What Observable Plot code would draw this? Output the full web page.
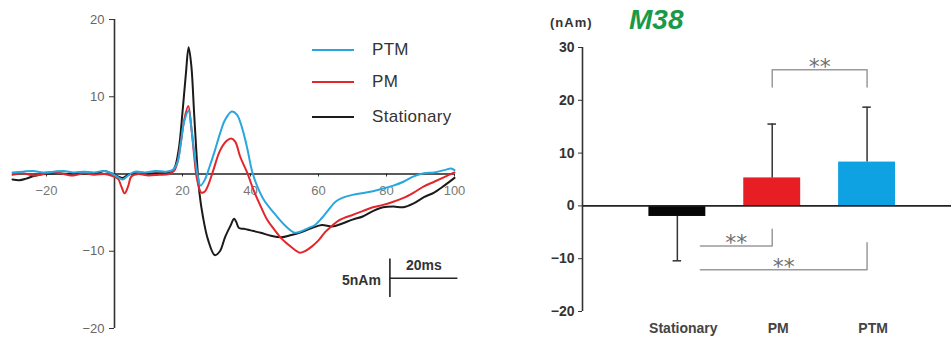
<!DOCTYPE html>
<html>
<head>
<meta charset="utf-8">
<script src="https://cdn.jsdelivr.net/npm/d3@7"></script>
<script src="https://cdn.jsdelivr.net/npm/@observablehq/plot@0.6"></script>
<style>
  html, body { margin: 0; padding: 0; background: #fff; }
  #wrap { position: relative; width: 951px; height: 338px; overflow: hidden; font-family: "Liberation Sans", Arial, sans-serif; }
  #left, #right { position: absolute; top: 0; }
  #left { left: 0; }
  #right { left: 470px; }
  .legend-item { position: absolute; left: 312px; display: flex; align-items: center; height: 20px; font-size: 17px; color: #333; letter-spacing: 0.3px; white-space: nowrap; }
  .legend-item .swatch { width: 42px; height: 0; border-top: 2.5px solid; margin-right: 18px; }
  #unit { position: absolute; left: 550px; top: 15px; font-size: 13px; font-weight: bold; color: #333; letter-spacing: 1px; }
  #title { position: absolute; left: 629px; top: 4px; font-size: 28px; font-weight: bold; font-style: italic; color: #1a9a48; }
</style>
</head>
<body>
<div id="wrap">
  <div id="left"></div>
  <div id="right"></div>
  <div id="legend"></div>
  <div id="unit">(nAm)</div>
  <div id="title">M38</div>
</div>
<script>
// ---------- Left panel: averaged waveforms (time in ms, amplitude in nAm) ----------
const stationaryT = [-30, -28, -26, -24, -22, -20, -17, -14, -11, -8, -5, -3, -1, 1, 2.5, 4, 6, 9, 12, 15, 17, 18, 19, 20, 21, 21.8, 22.6, 23.4, 24.2, 25, 26, 27.5, 29.5, 31, 32.5, 34, 35.2, 35.8, 36.6, 38, 40, 43, 46, 49, 52, 55, 58, 61, 64, 67, 70, 73, 76, 79, 82, 85, 88, 91, 94, 97, 100];
const stationaryV = [-0.7, -0.8, -0.6, -0.3, -0.1, 0.0, 0.1, 0.0, 0.1, 0.0, 0.1, 0.4, 0.1, -0.3, -0.5, -0.1, 0.1, 0.0, 0.1, 0.1, 0.3, 1.2, 3.5, 8.0, 13.0, 16.4, 14.0, 8.0, 2.0, -2.5, -5.5, -8.5, -10.5, -10.0, -8.2, -6.8, -5.8, -6.2, -7.0, -7.1, -7.3, -7.6, -8.0, -8.2, -7.9, -7.5, -7.0, -6.6, -6.8, -6.4, -5.9, -5.5, -4.8, -4.3, -4.2, -4.3, -3.8, -3.0, -2.4, -1.5, -0.5];

const pmT = [-30, -27, -24, -21, -18, -15, -12, -9, -6, -3, -1, 1, 2, 3, 4, 5, 7, 10, 13, 16, 17.5, 18.5, 19.5, 20.5, 21.7, 22.6, 23.4, 24.2, 25.5, 26.5, 27.5, 29, 31, 33, 34.3, 35.5, 37, 39, 41, 43, 45, 47, 49, 51, 53, 54.5, 56, 58, 60, 62, 64, 66, 68, 70, 73, 76, 79, 82, 85, 88, 91, 94, 97, 100];
const pmV = [-0.1, 0.1, -0.2, 0.0, 0.2, 0.0, -0.2, 0.1, -0.1, 0.0, -0.2, -0.6, -1.6, -2.5, -1.6, -0.3, 0.0, -0.2, -0.1, 0.0, 0.4, 1.5, 4.0, 7.0, 8.8, 6.0, 2.5, -0.5, -2.4, -2.3, -1.5, 0.4, 3.0, 4.3, 4.6, 4.2, 2.2, 0.2, -2.2, -4.2, -6.0, -7.2, -8.3, -9.1, -9.8, -10.2, -10.0, -9.4, -8.6, -7.5, -6.7, -6.0, -5.6, -5.3, -4.8, -4.3, -4.0, -3.6, -3.1, -2.4, -1.6, -1.0, -0.4, 0.2];

const ptmT = [-30, -27, -24, -21, -18, -15, -12, -9, -6, -3, -1, 1, 2.5, 4, 6, 9, 12, 15, 17, 18.5, 19.5, 20.5, 21.8, 22.6, 23.4, 24.4, 25.3, 26.5, 28, 29.5, 31, 32.5, 34.5, 36, 37.5, 39, 40.5, 42, 44, 47, 50, 53, 55, 57, 59, 61, 63, 65, 67, 70, 74, 78, 82, 85, 88, 91, 94, 97, 99, 100];
const ptmV = [0.2, 0.3, 0.4, 0.2, 0.3, 0.4, 0.2, 0.3, 0.2, 0.4, 0.1, -0.4, -0.7, -0.2, 0.3, 0.2, 0.4, 0.3, 0.5, 1.5, 4.0, 6.8, 8.2, 6.0, 3.0, 0.0, -1.5, -0.8, 1.0, 3.0, 5.2, 7.0, 8.1, 7.7, 6.0, 3.4, 0.3, -1.6, -3.4, -5.1, -6.6, -7.6, -7.4, -7.0, -6.6, -5.7, -4.6, -3.6, -3.1, -2.7, -2.4, -2.0, -1.5, -1.0, -0.3, 0.1, 0.2, 0.5, 0.7, 0.5];

const seriesNames = ["PTM", "PM", "Stationary"];
const xTicksLeft = [-20, 20, 40, 60, 80, 100];
const yTicksLeft = [-20, -10, 10, 20];
const scaleBarMs = 20;     // ms
const scaleBarNAm = 5;     // nAm
const scaleBarAt = [{t: 81, v: -13.5}];

// ---------- Right panel: mean amplitude per condition ----------
const categories = ["Stationary", "PM", "PTM"];
const barMeans = [-2.0, 5.3, 8.3];
const barSD = [8.4, 10.2, 10.4];
const yTicksRight = [-20, -10, 0, 10, 20, 30];

const bracketFrom = ["PM", "Stationary", "Stationary"];
const bracketTo = ["PTM", "PM", "PTM"];
const bracketLevel = [25.8, -7.6, -12.1];
const bracketTip = [22.5, -4.4, -7.0];
const bracketLabel = ["**", "**", "**"];

// ---------- styles ----------
const seriesColor = {PTM: "#2aa6df", PM: "#e2262b", Stationary: "#1b1b1b"};
const barColor = {Stationary: "#060606", PM: "#e81e25", PTM: "#0ea2e2"};
const barHalf = 0.3;
const capHalf = 0.045;
const bracketStartGap = 0.057;
const font = '"Liberation Sans", Arial, sans-serif';

// ---------- build left chart ----------
const rows = [];
const addSeries = (name, T, V) => T.forEach((t, i) => rows.push({series: name, t, v: V[i]}));
addSeries("Stationary", stationaryT, stationaryV);
addSeries("PM", pmT, pmV);
addSeries("PTM", ptmT, ptmV);

const left = Plot.plot({
  width: 470, height: 338,
  marginLeft: 12, marginRight: 16, marginTop: 19, marginBottom: 10,
  x: {domain: [-30, 100], label: null},
  y: {domain: [-20, 20], label: null},
  color: {type: "identity"},
  style: {fontFamily: font, fontSize: "13px", color: "#666", background: "transparent", overflow: "visible"},
  marks: [
    Plot.ruleX([0], {stroke: "#333", strokeWidth: 1.6}),
    Plot.axisY(yTicksLeft, {x: 0, anchor: "left", tickSize: 5, tickPadding: 5, stroke: "#333", fill: "#666", label: null}),
    Plot.axisX(xTicksLeft, {y: 0, anchor: "bottom", tickSize: 3, tickPadding: 9, stroke: "#333", fill: "#777", label: null}),
    Plot.ruleY([0], {stroke: "#222", strokeWidth: 1.6}),
    Plot.line(rows, {x: "t", y: "v", z: "series", stroke: d => seriesColor[d.series], strokeWidth: 2, curve: "catmull-rom"}),
    Plot.ruleX(scaleBarAt, {x: "t", y1: d => d.v - scaleBarNAm / 2, y2: d => d.v + scaleBarNAm / 2, stroke: "#222", strokeWidth: 1.6}),
    Plot.ruleY(scaleBarAt, {y: "v", x1: "t", x2: d => d.t + scaleBarMs, stroke: "#222", strokeWidth: 1.6}),
    Plot.text(scaleBarAt, {x: d => d.t + scaleBarMs / 2, y: "v", text: () => scaleBarMs + "ms", dy: -13, fontSize: 14, fontWeight: "bold", fill: "#333"}),
    Plot.text(scaleBarAt, {x: "t", y: "v", text: () => scaleBarNAm + "nAm", dx: -9, dy: 2, textAnchor: "end", fontSize: 14, fontWeight: "bold", fill: "#333"})
  ]
});
document.getElementById("left").appendChild(left);

// legend
const legendTops = {PTM: 40, PM: 72, Stationary: 107};
const legend = document.getElementById("legend");
seriesNames.forEach(name => {
  const item = document.createElement("div");
  item.className = "legend-item";
  item.style.top = legendTops[name] + "px";
  const sw = document.createElement("span");
  sw.className = "swatch";
  sw.style.borderColor = seriesColor[name];
  item.appendChild(sw);
  item.appendChild(document.createTextNode(name));
  legend.appendChild(item);
});

// ---------- build right chart ----------
const xDomainRight = [-1, 2.89];
const bracketPoints = [];
const starPoints = [];
bracketFrom.forEach((f, b) => {
  const i1 = categories.indexOf(f), i2 = categories.indexOf(bracketTo[b]);
  const startLeg = bracketLevel[b] > 0;
  const xStart = startLeg ? i1 : i1 + barHalf - bracketStartGap;
  if (startLeg) bracketPoints.push({b, x: i1, y: bracketTip[b]});
  bracketPoints.push({b, x: xStart, y: bracketLevel[b]});
  bracketPoints.push({b, x: i2, y: bracketLevel[b]});
  bracketPoints.push({b, x: i2, y: bracketTip[b]});
  starPoints.push({x: (xStart + i2) / 2, y: bracketLevel[b], label: bracketLabel[b]});
});

const errEnd = (c, i) => barMeans[i] + Math.sign(barMeans[i]) * barSD[i];

const right = Plot.plot({
  width: 481, height: 338,
  marginLeft: 112, marginRight: 0, marginTop: 47, marginBottom: 27,
  x: {domain: xDomainRight, label: null},
  y: {domain: [-20, 30], label: null},
  color: {type: "identity"},
  style: {fontFamily: font, fontSize: "12px", color: "#333", background: "transparent", overflow: "visible"},
  marks: [
    Plot.rect(categories, {x1: (c, i) => i - barHalf, x2: (c, i) => i + barHalf, y1: () => 0, y2: (c, i) => barMeans[i], fill: c => barColor[c]}),
    Plot.ruleX(categories, {x: (c, i) => i, y1: (c, i) => barMeans[i], y2: errEnd, stroke: "#333", strokeWidth: 1.5}),
    Plot.ruleY(categories, {y: errEnd, x1: (c, i) => i - capHalf, x2: (c, i) => i + capHalf, stroke: "#333", strokeWidth: 1.5}),
    Plot.ruleY([0], {stroke: "#222", strokeWidth: 1.6}),
    Plot.ruleX([xDomainRight[0]], {stroke: "#333", strokeWidth: 1.6}),
    Plot.axisY(yTicksRight, {anchor: "left", tickSize: 4, tickPadding: 4, fontSize: 14, fontWeight: "bold", fill: "#333", stroke: "#333", label: null}),
    Plot.axisX(categories.map((c, i) => i), {anchor: "bottom", tickSize: 0, tickPadding: 12, tickFormat: i => categories[i], fontSize: 14, fontWeight: "bold", fill: "#444", dx: 6, label: null}),
    Plot.line(bracketPoints, {x: "x", y: "y", z: "b", stroke: "#9a9a9a", strokeWidth: 1.5, curve: "linear"}),
    Plot.text(starPoints, {x: "x", y: "y", text: "label", dy: -3, fontSize: 22, fontFamily: '"DejaVu Sans", sans-serif', fill: "#6f6f6f"})
  ]
});
document.getElementById("right").appendChild(right);
</script>
</body>
</html>
